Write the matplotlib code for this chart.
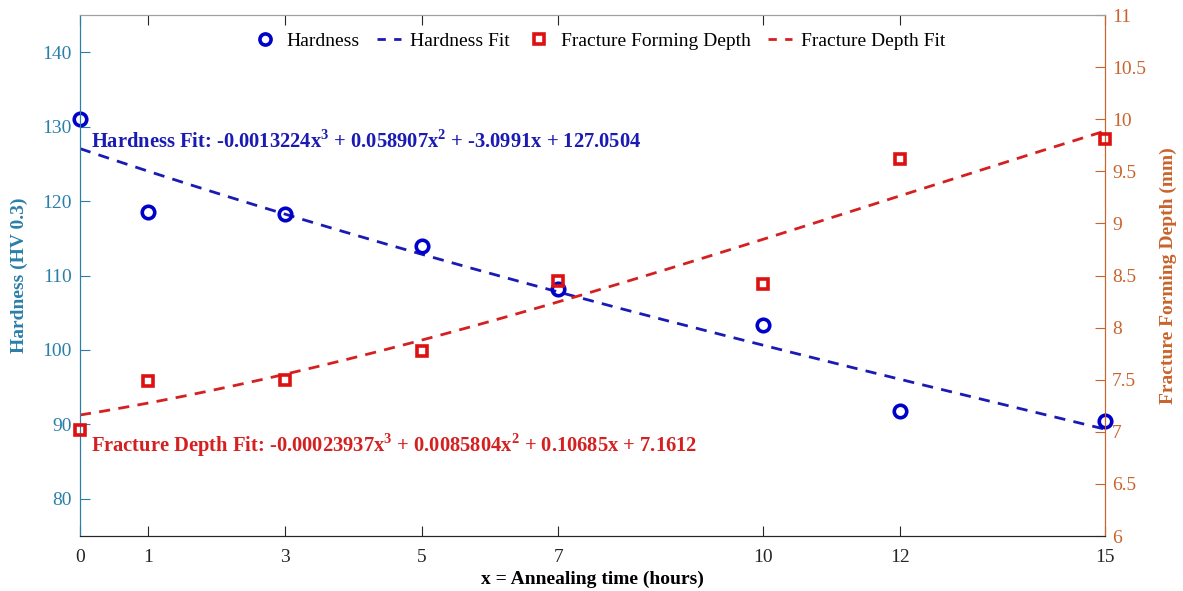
import numpy as np
import matplotlib.pyplot as plt
from matplotlib.lines import Line2D
from matplotlib.ticker import FormatStrFormatter

plt.rcParams['font.family'] = ['Liberation Serif', 'DejaVu Serif']
plt.rcParams['mathtext.fontset'] = 'custom'
plt.rcParams['mathtext.rm'] = 'Liberation Serif'
plt.rcParams['mathtext.bf'] = 'Liberation Serif:bold'

# Datos
anneal_time = [0, 1, 3, 5, 7, 10, 12, 15]
hardness = [131.0, 118.5, 118.2, 114.0, 108.2, 103.4, 91.8, 90.5]
fracture_depth = [7.02, 7.49, 7.50, 7.78, 8.45, 8.42, 9.62, 9.81]

# Coeficientes de los ajustes cúbicos (del texto)
hard_coef = [-0.0013224, 0.058907, -3.0991, 127.0504]
frac_coef = [-0.00023937, 0.0085804, 0.10685, 7.1612]

col_left = '#2a7fa8'
col_right = '#c8642c'
col_blue = '#0000cc'
col_red = '#dd1111'

x_fit = np.linspace(0, 15, 200)

fig = plt.figure(figsize=(11.83, 5.91), dpi=100)
ax = fig.add_axes([0.0676, 0.093, 0.8665, 0.8816])
ax2 = ax.twinx()

ax.plot(anneal_time, hardness, 'o', mfc='none', mec=col_blue, mew=2.6, ms=9, clip_on=False, zorder=5)
ax.plot(x_fit, np.polyval(hard_coef, x_fit), '--', color='#1a1ab4', lw=2, dashes=(4, 3))
ax2.plot(anneal_time, fracture_depth, 's', mfc='none', mec=col_red, mew=2.6, ms=7.5, clip_on=False, zorder=5)
ax2.plot(x_fit, np.polyval(frac_coef, x_fit), '--', color='#d42020', lw=2, dashes=(4, 3))

ax.set_xlim(0, 15)
ax.set_ylim(75, 145)
ax2.set_ylim(6, 11)
ax.set_xticks(anneal_time)
ax.set_yticks(np.arange(80, 141, 10))
ax2.set_yticks(np.arange(6, 11.01, 0.5))
ax2.yaxis.set_major_formatter(FormatStrFormatter('%g'))

ax.tick_params(axis='x', direction='in', top=True, labelsize=14, length=7, pad=9, colors='#262626')
ax.tick_params(axis='y', direction='in', labelsize=14, length=7, pad=6, colors=col_left)
ax2.tick_params(axis='y', direction='in', labelsize=14, length=7, pad=5, colors=col_right)

for a in (ax, ax2):
    a.spines['top'].set_color('#a0a0a0')
    a.spines['bottom'].set_color('#262626')
    a.spines['left'].set_color(col_left)
    a.spines['right'].set_color(col_right)

ax.set_xlabel('x = Annealing time (hours)', fontsize=14, fontweight='bold', labelpad=4)
ax.set_ylabel('Hardness (HV 0.3)', fontsize=14, fontweight='bold', color=col_left, labelpad=10)
ax2.set_ylabel('Fracture Forming Depth (mm)', fontsize=14, fontweight='bold', color=col_right, labelpad=10)

ax.text(0.16, 128.0, r'Hardness Fit: -0.0013224x$^{\mathbf{3}}$ + 0.058907x$^{\mathbf{2}}$ + -3.0991x + 127.0504',
        fontsize=14.8, fontweight='bold', color='#1a1ab4', va='center')
ax.text(0.16, 87.2, r'Fracture Depth Fit: -0.00023937x$^{\mathbf{3}}$ + 0.0085804x$^{\mathbf{2}}$ + 0.10685x + 7.1612',
        fontsize=14.8, fontweight='bold', color='#d42020', va='center')

handles = [
    Line2D([], [], ls='none', marker='o', mfc='none', mec=col_blue, mew=2.6, ms=8),
    Line2D([], [], ls='--', color='#1a1ab4', lw=2, dashes=(3, 3)),
    Line2D([], [], ls='none', marker='s', mfc='none', mec=col_red, mew=2.6, ms=7),
    Line2D([], [], ls='--', color='#d42020', lw=2, dashes=(3, 3)),
]
labels = ['Hardness', 'Hardness Fit', 'Fracture Forming Depth', 'Fracture Depth Fit']
ax.legend(handles, labels, loc='upper center', bbox_to_anchor=(0.507, 1.0), ncol=4,
          frameon=False, fontsize=14, handlelength=1.2, handletextpad=0.5, columnspacing=0.9)

plt.savefig('out.png', dpi=100)
